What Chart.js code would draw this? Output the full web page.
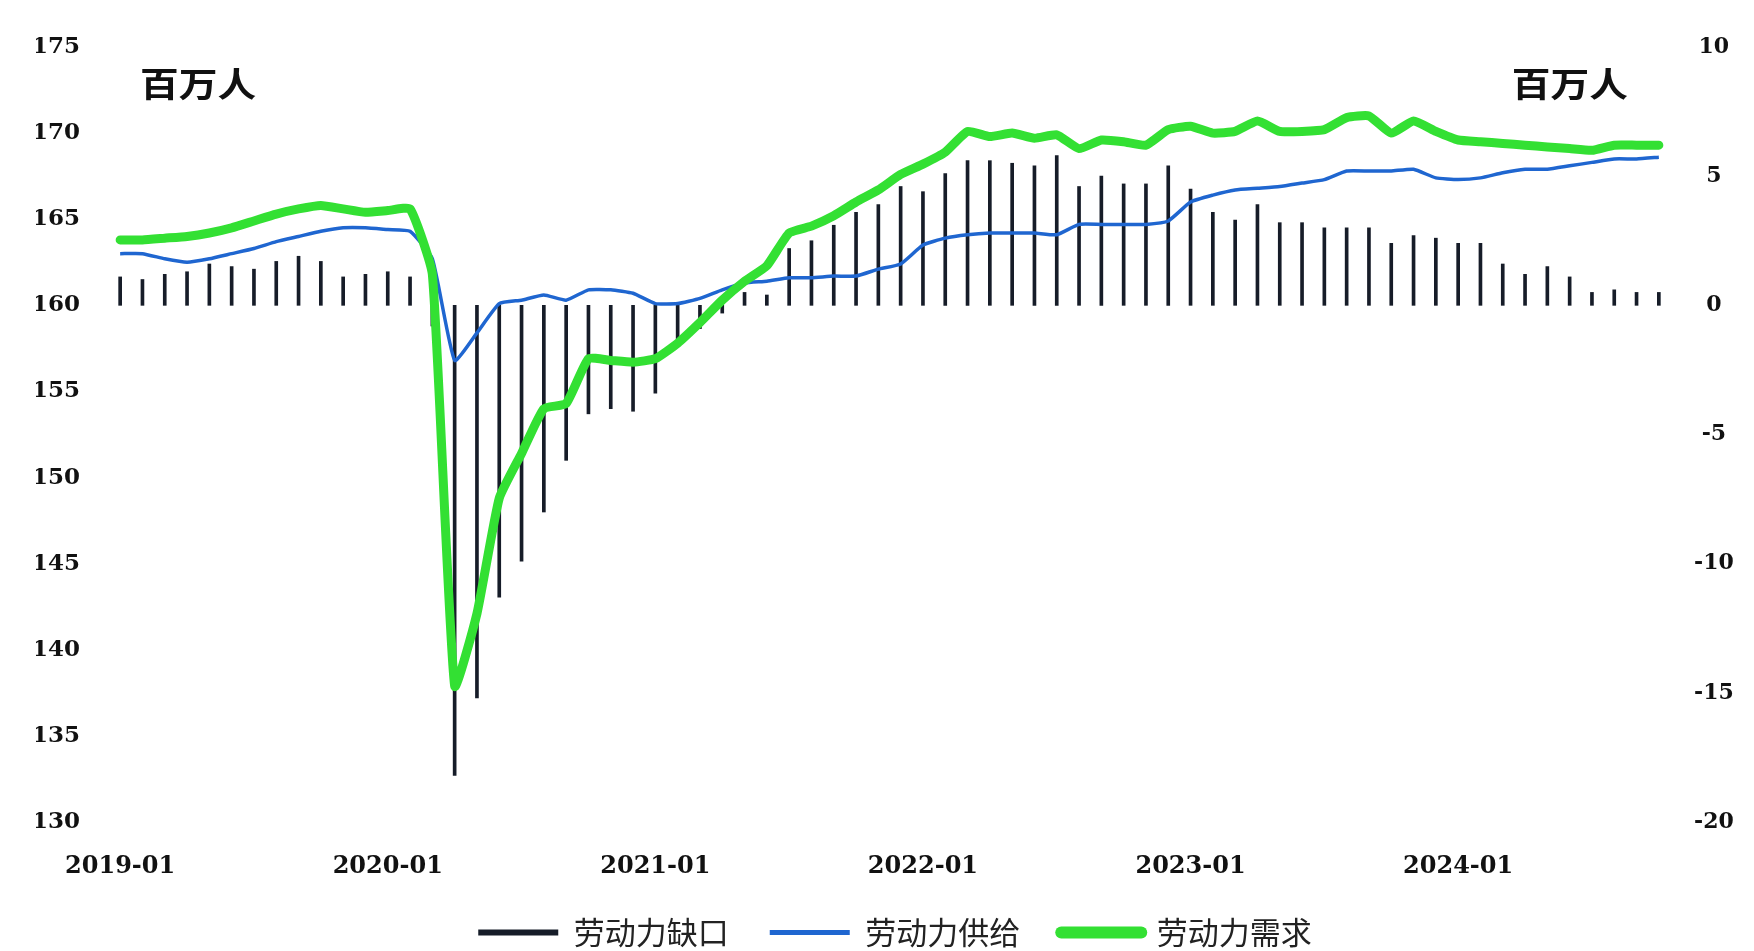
<!DOCTYPE html>
<html>
<head>
<meta charset="utf-8">
<script src="https://cdn.jsdelivr.net/npm/chart.js@4.4.1/dist/chart.umd.min.js"></script>
<style>
    html, body { margin: 0; padding: 0; background: #fff; overflow: hidden; }
    #div_c1 { width: 1754px; height: 958px; position: relative; }
</style>
</head>
<body>
<div id="div_c1"><canvas id="Chart1"></canvas></div>
<script>
var months = [
    '2019-01', '2019-02', '2019-03', '2019-04', '2019-05', '2019-06', '2019-07', '2019-08', '2019-09', '2019-10', '2019-11', '2019-12',
    '2020-01', '2020-02', '2020-03', '2020-04', '2020-05', '2020-06', '2020-07', '2020-08', '2020-09', '2020-10', '2020-11', '2020-12',
    '2021-01', '2021-02', '2021-03', '2021-04', '2021-05', '2021-06', '2021-07', '2021-08', '2021-09', '2021-10', '2021-11', '2021-12',
    '2022-01', '2022-02', '2022-03', '2022-04', '2022-05', '2022-06', '2022-07', '2022-08', '2022-09', '2022-10', '2022-11', '2022-12',
    '2023-01', '2023-02', '2023-03', '2023-04', '2023-05', '2023-06', '2023-07', '2023-08', '2023-09', '2023-10', '2023-11', '2023-12',
    '2024-01', '2024-02', '2024-03', '2024-04', '2024-05', '2024-06', '2024-07', '2024-08', '2024-09', '2024-10'
];
var xTickLabels = ['2019-01', '2020-01', '2021-01', '2022-01', '2023-01', '2024-01'];
var yLeftTicks = [175, 170, 165, 160, 155, 150, 145, 140, 135, 130];
var yRightTicks = [10, 5, 0, -5, -10, -15, -20];

// 百万人, 左轴
var demandData = [
    163.8, 163.8, 163.9, 164.0, 164.2, 164.5, 164.9, 165.3, 165.6, 165.8, 165.6, 165.4,
    165.5, 165.6, 161.8, 137.9, 142.1, 148.8, 151.4, 154.0, 154.3, 156.9, 156.8, 156.7,
    156.9, 157.8, 159.0, 160.3, 161.4, 162.3, 164.2, 164.6, 165.2, 166.0, 166.7, 167.6,
    168.2, 168.9, 170.1, 169.8, 170.0, 169.7, 169.9, 169.1, 169.6, 169.5, 169.3, 170.2,
    170.4, 170.0, 170.1, 170.7, 170.1, 170.1, 170.2, 170.9, 171.0, 170.0, 170.7, 170.1,
    169.6, 169.5, 169.4, 169.3, 169.2, 169.1, 169.0, 169.3, 169.3, 169.3
];
var supplyData = [
    163.0, 163.0, 162.7, 162.5, 162.7, 163.0, 163.3, 163.7, 164.0, 164.3, 164.5, 164.5,
    164.4, 164.3, 162.7, 156.8, 158.4, 160.1, 160.3, 160.6, 160.3, 160.9, 160.9, 160.7,
    160.1, 160.1, 160.4, 160.9, 161.3, 161.4, 161.6, 161.6, 161.7, 161.7, 162.1, 162.4,
    163.5, 163.9, 164.1, 164.2, 164.2, 164.2, 164.1, 164.7, 164.7, 164.7, 164.7, 164.9,
    166.0, 166.4, 166.7, 166.8, 166.9, 167.1, 167.3, 167.8, 167.8, 167.8, 167.9, 167.4,
    167.3, 167.4, 167.7, 167.9, 167.9, 168.1, 168.3, 168.5, 168.5, 168.6
];
// 百万人, 右轴
var gapData = [
    1.1, 1.0, 1.2, 1.3, 1.6, 1.5, 1.4, 1.7, 1.9, 1.7, 1.1, 1.2,
    1.3, 1.1, -0.8, -18.2, -15.2, -11.3, -9.9, -8.0, -6.0, -4.2, -4.0, -4.1,
    -3.4, -1.3, -0.9, -0.3, 0.5, 0.4, 2.2, 2.5, 3.1, 3.6, 3.9, 4.6,
    4.4, 5.1, 5.6, 5.6, 5.5, 5.4, 5.8, 4.6, 5.0, 4.7, 4.7, 5.4,
    4.5, 3.6, 3.3, 3.9, 3.2, 3.2, 3.0, 3.0, 3.0, 2.4, 2.7, 2.6,
    2.4, 2.4, 1.6, 1.2, 1.5, 1.1, 0.5, 0.6, 0.5, 0.5
];

var seriesLabels = ['劳动力缺口', '劳动力供给', '劳动力需求'];
var seriesColors = ['#161c28', '#1f66d0', '#33e033'];
var unitLeft = '百万人';
var unitRight = '百万人';

var tickFont = '"DejaVu Serif", serif';
var cjkFont = '"Noto Sans CJK SC", sans-serif';

var unitTitles = {
    id: 'unitTitles',
    afterDraw: function (chart) {
        var c = chart.ctx;
        c.save();
        c.font = 'bold 34px ' + cjkFont;
        c.fillStyle = '#111';
        c.textBaseline = 'middle';

        c.save();
        c.translate(140, 84);
        c.scale(1.14, 1);
        c.textAlign = 'left';
        c.fillText(unitLeft, 0, 0);
        c.restore();

        c.save();
        c.translate(1628, 84);
        c.scale(1.14, 1);
        c.textAlign = 'right';
        c.fillText(unitRight, 0, 0);
        c.restore();

        c.restore();
    }
};

function drawChart1() {
    var ctx1 = document.getElementById('Chart1');

    var data1 = {
        labels: months,
        datasets: [{
            type: 'bar',
            label: seriesLabels[0],
            data: gapData,
            backgroundColor: seriesColors[0],
            borderWidth: 0,
            barThickness: 3,
            yAxisID: 'y1',
            order: 2
        }, {
            type: 'line',
            label: seriesLabels[1],
            data: supplyData,
            borderColor: seriesColors[1],
            backgroundColor: seriesColors[1],
            borderWidth: 3.5,
            pointRadius: 0,
            tension: 0.15,
            yAxisID: 'y',
            order: 1
        }, {
            type: 'line',
            label: seriesLabels[2],
            data: demandData,
            borderColor: seriesColors[2],
            backgroundColor: seriesColors[2],
            borderWidth: 9,
            borderJoinStyle: 'round',
            borderCapStyle: 'round',
            pointRadius: 0,
            tension: 0.15,
            yAxisID: 'y',
            order: 0
        }]
    };

    var legendWidths = [6, 5, 12];

    new Chart(ctx1, {
        type: 'bar',
        data: data1,
        plugins: [unitTitles],
        options: {
            responsive: true,
            maintainAspectRatio: false,
            animation: false,
            layout: {
                padding: { left: 36, right: 0, top: 47, bottom: 0 }
            },
            scales: {
                x: {
                    offset: true,
                    grid: { display: false, drawTicks: false },
                    border: { display: false },
                    afterFit: function (scale) { scale.height = 85; },
                    ticks: {
                        autoSkip: false,
                        maxRotation: 0,
                        minRotation: 0,
                        padding: 30,
                        color: '#111',
                        font: { family: tickFont, size: 24, weight: 'bold' },
                        callback: function (value, index) {
                            var lb = months[index];
                            return xTickLabels.indexOf(lb) >= 0 ? lb : '';
                        }
                    }
                },
                y: {
                    position: 'left',
                    min: Math.min.apply(null, yLeftTicks),
                    max: Math.max.apply(null, yLeftTicks),
                    grid: { display: false, drawTicks: false },
                    border: { display: false },
                    afterFit: function (scale) { scale.width = 73; },
                    ticks: {
                        stepSize: yLeftTicks[0] - yLeftTicks[1],
                        padding: 29,
                        color: '#111',
                        font: { family: tickFont, size: 23, weight: 'bold' }
                    }
                },
                y1: {
                    position: 'right',
                    min: Math.min.apply(null, yRightTicks),
                    max: Math.max.apply(null, yRightTicks),
                    grid: { display: false, drawTicks: false },
                    border: { display: false },
                    afterFit: function (scale) { scale.width = 84; },
                    ticks: {
                        stepSize: yRightTicks[0] - yRightTicks[1],
                        padding: 24,
                        crossAlign: 'center',
                        color: '#111',
                        font: { family: tickFont, size: 22, weight: 'bold' }
                    }
                }
            },
            plugins: {
                legend: {
                    position: 'bottom',
                    labels: {
                        usePointStyle: true,
                        pointStyleWidth: 80,
                        padding: 10,
                        color: '#222',
                        font: { family: cjkFont, size: 31 },
                        generateLabels: function (chart) {
                            var items = Chart.defaults.plugins.legend.labels.generateLabels(chart);
                            items.sort(function (a, b) { return a.datasetIndex - b.datasetIndex; });
                            items.forEach(function (item, i) {
                                item.pointStyle = 'line';
                                item.strokeStyle = seriesColors[item.datasetIndex];
                                item.lineWidth = legendWidths[item.datasetIndex];
                                item.lineCap = item.datasetIndex == 2 ? 'round' : 'butt';
                                if (i < items.length - 1) item.text = item.text + '\u3000';
                            });
                            return items;
                        }
                    }
                },
                tooltip: { enabled: false }
            }
        }
    });
}

drawChart1();
</script>
</body>
</html>
